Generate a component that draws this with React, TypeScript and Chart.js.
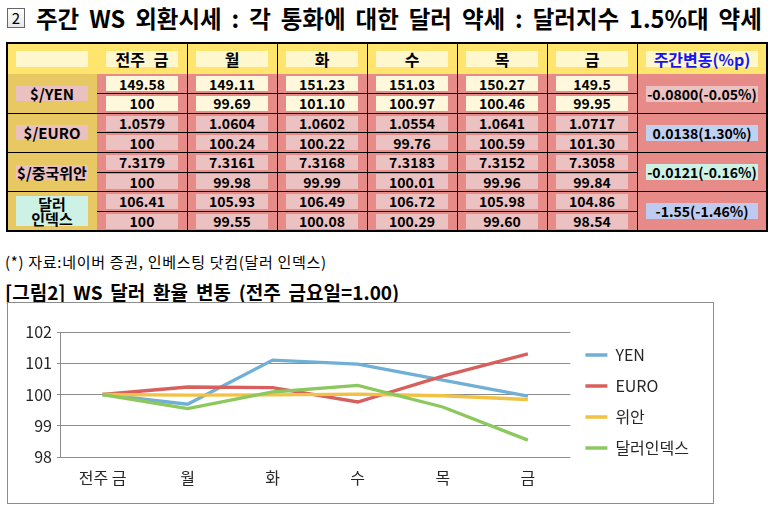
import React, { useEffect, useRef } from "react";
import { Chart, registerables } from "chart.js";

Chart.register(...registerables);

// ---------- DATA ----------
const categories = ["전주 금", "월", "화", "수", "목", "금"];
const yenIndex = [100, 99.69, 101.1, 100.97, 100.46, 99.95];
const euroIndex = [100, 100.24, 100.22, 99.76, 100.59, 101.3];
const yuanIndex = [100, 99.98, 99.99, 100.01, 99.96, 99.84];
const dollarIndex = [100, 99.55, 100.08, 100.29, 99.6, 98.54];

const yenRates = ["149.58", "149.11", "151.23", "151.03", "150.27", "149.5"];
const euroRates = ["1.0579", "1.0604", "1.0602", "1.0554", "1.0641", "1.0717"];
const yuanRates = ["7.3179", "7.3161", "7.3168", "7.3183", "7.3152", "7.3058"];
const dxyRates = ["106.41", "105.93", "106.49", "106.72", "105.98", "104.86"];

const rowLabels = ["$/YEN", "$/EURO", "$/중국위안", "달러\n인덱스"];
const weeklyChange = ["-0.0800(-0.05%)", "0.0138(1.30%)", "-0.0121(-0.16%)", "-1.55(-1.46%)"];
const headerLabels = ["", "전주 금", "월", "화", "수", "목", "금", "주간변동(%p)"];
const legendNames = ["YEN", "EURO", "위안", "달러인덱스"];
const yTicks = [98, 99, 100, 101, 102];

// ---------- STYLE ----------
const FONT = "'Noto Sans CJK KR', 'Noto Sans', sans-serif";
const lineColors = ["#70AFD6", "#D7605D", "#F1C243", "#8DC85F"];
const colX = [0, 90, 180, 270, 360, 450, 540, 630, 760];
const headerH = 31;
const rowH = 19.6;
const boxColors = ["#FFF8DC", "#EBC1C1", "#EBC1C1", "#EBC1C1"];
const labelBoxColors = ["#E9C1C1", "#E9C1C1", "#E9C1C1", "#CDF2E5"];
const changeBoxColors = ["#EBC1C1", "#BFD0F0", "#CDF2E5", "#BFCBEE"];

const fmtIdx = (v: number, i: number) => (i === 0 ? "100" : v.toFixed(2));

function Table() {
  const groups = [
    [yenRates, yenIndex],
    [euroRates, euroIndex],
    [yuanRates, yuanIndex],
    [dxyRates, dollarIndex],
  ] as [string[], number[]][];
  const els: React.ReactNode[] = [];
  const W = colX[colX.length - 1];
  const H = headerH + rowH * 8;
  els.push(<div key="bgh" style={{ position: "absolute", left: 0, top: 0, width: W, height: headerH, background: "#FFE46E" }} />);
  els.push(<div key="bg0" style={{ position: "absolute", left: 0, top: headerH, width: colX[1], height: H - headerH, background: "#E8C863" }} />);
  els.push(<div key="bgd" style={{ position: "absolute", left: colX[1], top: headerH, width: W - colX[1], height: H - headerH, background: "#E68B87" }} />);
  headerLabels.forEach((t, i) => {
    const x0 = colX[i] + 9;
    const w = colX[i + 1] - colX[i] - 18;
    els.push(
      <div key={"h" + i} style={{ position: "absolute", left: x0, top: 8, width: w, height: 16, background: "#FFF7CD", display: "flex", alignItems: "center", justifyContent: "center", fontWeight: "bold", fontSize: 16, color: i === 7 ? "#1515F0" : "#000", whiteSpace: "pre", wordSpacing: 5 }}>{t}</div>
    );
  });
  groups.forEach(([rates, idx], g) => {
    const gy = headerH + 2 * g * rowH;
    const two = g === 3;
    const lh = two ? 30 : 15;
    els.push(
      <div key={"l" + g} style={{ position: "absolute", left: 9, top: gy + rowH - lh / 2, width: 72, height: lh, background: labelBoxColors[g], display: "flex", alignItems: "center", justifyContent: "center", textAlign: "center", fontWeight: "bold", fontSize: 15, lineHeight: "15px", whiteSpace: "pre" }}>{rowLabels[g]}</div>
    );
    [rates, idx.map(fmtIdx)].forEach((vals, r) => {
      vals.forEach((v, c) => {
        const x0 = colX[c + 1] + 9;
        const w = colX[c + 2] - colX[c + 1] - 18;
        els.push(
          <div key={`d${g}${r}${c}`} style={{ position: "absolute", left: x0, top: gy + r * rowH + 2.3, width: w, height: rowH - 4.6, background: boxColors[g], display: "flex", alignItems: "center", justifyContent: "center", fontWeight: "bold", fontSize: 14 }}>{v}</div>
        );
      });
    });
    els.push(
      <div key={"c" + g} style={{ position: "absolute", left: colX[7] + 9, top: gy + rowH - 8, width: colX[8] - colX[7] - 18, height: 16, background: changeBoxColors[g], display: "flex", alignItems: "center", justifyContent: "center", fontWeight: "bold", fontSize: 14 }}>{weeklyChange[g]}</div>
    );
    if (g > 0) els.push(<div key={"gl" + g} style={{ position: "absolute", left: 0, top: gy - 0.5, width: W, height: 1.3, background: "#000" }} />);
    els.push(<div key={"sl" + g} style={{ position: "absolute", left: colX[1], top: gy + rowH - 0.5, width: colX[7] - colX[1], height: 1, background: "#000" }} />);
  });
  for (let i = 2; i <= 7; i++) {
    els.push(<div key={"v" + i} style={{ position: "absolute", left: colX[i] - 0.5, top: 0, width: 1.3, height: H, background: "#000" }} />);
  }
  els.push(<div key="outer" style={{ position: "absolute", left: -1, top: -1, width: W + 2, height: H + 2, border: "2px solid #000", boxSizing: "border-box" }} />);
  return (
    <div style={{ position: "absolute", left: 7, top: 43, width: W, height: H, fontFamily: FONT, color: "#000" }}>{els}</div>
  );
}

function LineChart() {
  const ref = useRef<HTMLCanvasElement>(null);
  useEffect(() => {
    if (!ref.current) return;
    const font = { family: FONT, size: 16 };
    const series = [yenIndex, euroIndex, yuanIndex, dollarIndex];
    const chart = new Chart(ref.current, {
      type: "line",
      data: {
        labels: categories,
        datasets: series.map((d, i) => ({
          label: legendNames[i],
          data: d,
          borderColor: lineColors[i],
          backgroundColor: lineColors[i],
          borderWidth: 3.3,
          pointRadius: 0,
          tension: 0,
          order: 4 - i,
        })),
      },
      options: {
        responsive: false,
        animation: false,
        layout: { padding: { top: 29, right: 14, bottom: 0, left: 0 } },
        plugins: {
          legend: {
            position: "right",
            align: "start",
            labels: {
              usePointStyle: true,
              pointStyle: "line",
              pointStyleWidth: 22,
              padding: 15,
              color: "#262626",
              font,
              sort: (a: any, b: any) => a.datasetIndex - b.datasetIndex,
            },
          },
          tooltip: { enabled: false },
        },
        scales: {
          x: {
            offset: true,
            grid: { display: false, drawTicks: false },
            border: { display: false },
            ticks: { padding: 11, color: "#262626", font, maxRotation: 0 },
            afterFit: (s: any) => { s.height = 46; },
          },
          y: {
            min: yTicks[0],
            max: yTicks[yTicks.length - 1],
            ticks: { stepSize: 1, padding: 5, color: "#262626", font },
            grid: { color: "#8C8C8C", lineWidth: 1, tickLength: 3, drawTicks: true },
            border: { display: true, color: "#8C8C8C", width: 1 },
            afterFit: (s: any) => { s.width = 52; },
          },
        },
      } as any,
    });
    return () => chart.destroy();
  }, []);
  return (
    <div style={{ position: "absolute", left: 7, top: 302, width: 707, height: 202, border: "1px solid #8C8C8C", boxSizing: "border-box", background: "#fff" }}>
      <canvas ref={ref} width={705} height={200} style={{ display: "block", width: 705, height: 200 }} />
    </div>
  );
}

export default function App() {
  return (
    <div style={{ position: "absolute", left: 0, top: 0, width: 775, height: 516, background: "#fff", fontFamily: FONT, color: "#000", overflow: "hidden" }}>
      <div style={{ position: "absolute", left: 7, top: 8, width: 18, height: 20, border: "1px solid #666", boxSizing: "border-box", background: "linear-gradient(#fff,#e8e8e8)", fontSize: 15, lineHeight: "18px", textAlign: "center", fontFamily: FONT }}>2</div>
      <div style={{ position: "absolute", left: 36, top: 2, fontSize: 23.5, fontWeight: "bold", whiteSpace: "pre", lineHeight: "32px", wordSpacing: 4.6 }}>
        주간 WS 외환시세 : 각 통화에 대한 달러 약세 : 달러지수 1.5%대 약세
      </div>
      <Table />
      <div style={{ position: "absolute", left: 5, top: 251, fontSize: 15, letterSpacing: 0.7, whiteSpace: "pre", lineHeight: "22px" }}>
        (*) 자료:네이버 증권, 인베스팅 닷컴(달러 인덱스)
      </div>
      <div style={{ position: "absolute", left: 5, top: 278, fontSize: 19, fontWeight: "bold", whiteSpace: "pre", lineHeight: "28px", wordSpacing: 3.5 }}>
        [그림2] WS 달러 환율 변동 (전주 금요일=1.00)
      </div>
      <LineChart />
    </div>
  );
}
